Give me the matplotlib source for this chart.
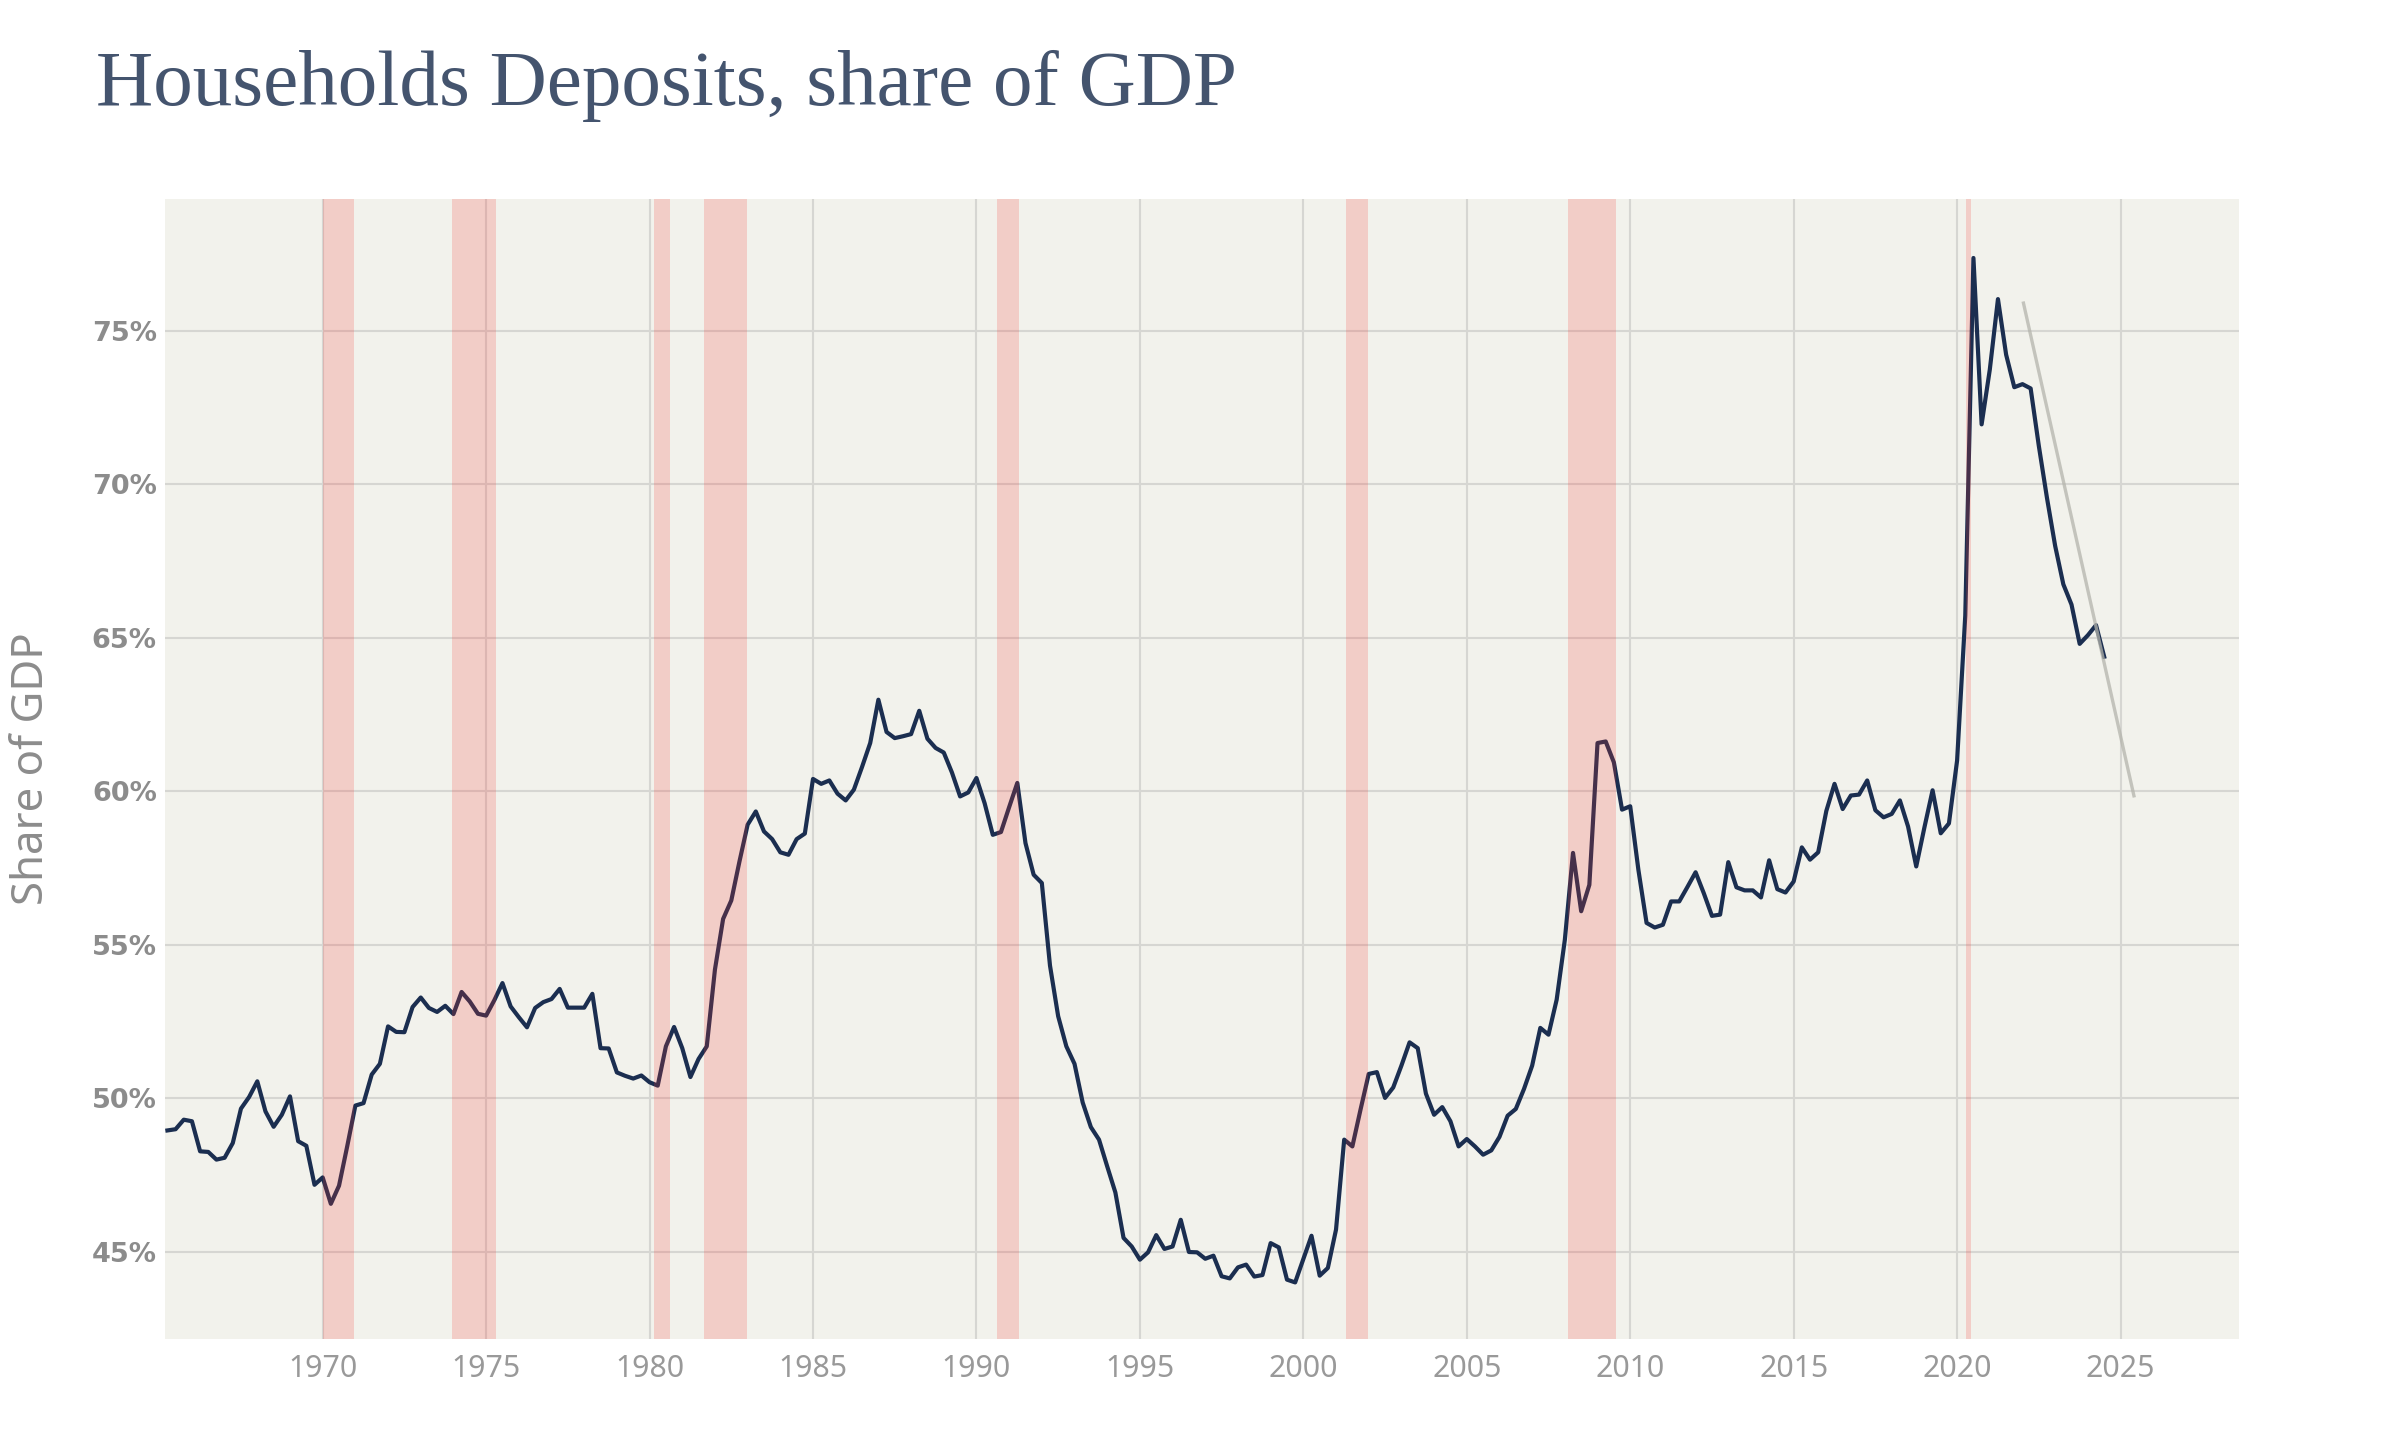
from __future__ import annotations

import numpy as np
import matplotlib

matplotlib.use("Agg")
import matplotlib.pyplot as plt
from matplotlib.ticker import FuncFormatter

# quarterly household deposits, % of GDP (first point = 1965Q2)
start_year = 1965.25
share_gdp = [
    48.95, 48.99, 49.30, 49.25, 48.27, 48.25, 48.00, 48.06,
    48.54, 49.66, 50.04, 50.55, 49.57, 49.07, 49.46, 50.06,
    48.60, 48.45, 47.18, 47.42, 46.56, 47.15, 48.43, 49.76,
    49.84, 50.77, 51.12, 52.34, 52.16, 52.15, 52.97, 53.28,
    52.94, 52.81, 53.01, 52.74, 53.46, 53.15, 52.75, 52.69,
    53.19, 53.75, 52.99, 52.64, 52.31, 52.94, 53.13, 53.23,
    53.56, 52.95, 52.95, 52.95, 53.40, 51.63, 51.62, 50.84,
    50.73, 50.64, 50.74, 50.52, 50.41, 51.69, 52.32, 51.63,
    50.69, 51.28, 51.69, 54.19, 55.84, 56.44, 57.71, 58.91,
    59.34, 58.69, 58.44, 58.01, 57.93, 58.44, 58.62, 60.40,
    60.24, 60.35, 59.92, 59.70, 60.05, 60.79, 61.57, 62.98,
    61.93, 61.73, 61.79, 61.86, 62.62, 61.71, 61.41, 61.26,
    60.61, 59.83, 59.96, 60.43, 59.61, 58.58, 58.67, 59.48,
    60.27, 58.31, 57.28, 57.01, 54.32, 52.67, 51.69, 51.12,
    49.86, 49.06, 48.65, 47.78, 46.93, 45.45, 45.17, 44.74,
    44.98, 45.54, 45.09, 45.17, 46.04, 44.99, 44.98, 44.77,
    44.87, 44.20, 44.13, 44.49, 44.58, 44.19, 44.24, 45.28,
    45.14, 44.09, 44.00, 44.76, 45.52, 44.22, 44.47, 45.72,
    48.65, 48.43, 49.63, 50.79, 50.85, 50.01, 50.35, 51.06,
    51.82, 51.63, 50.15, 49.46, 49.71, 49.25, 48.43, 48.67,
    48.43, 48.16, 48.30, 48.74, 49.43, 49.65, 50.30, 51.06,
    52.29, 52.07, 53.21, 55.16, 57.99, 56.09, 56.95, 61.57,
    61.62, 60.94, 59.40, 59.51, 57.44, 55.71, 55.56, 55.65,
    56.41, 56.41, 56.88, 57.36, 56.68, 55.94, 55.98, 57.69,
    56.87, 56.77, 56.77, 56.54, 57.75, 56.81, 56.70, 57.06,
    58.17, 57.77, 58.01, 59.36, 60.24, 59.42, 59.86, 59.89,
    60.35, 59.38, 59.15, 59.26, 59.70, 58.85, 57.55, 58.82,
    60.03, 58.63, 58.95, 61.00, 65.72, 77.37, 71.95, 73.73,
    76.03, 74.22, 73.16, 73.26, 73.12, 71.25, 69.55, 67.99,
    66.74, 66.08, 64.80, 65.08, 65.41, 64.38,
]

# recession periods (decimal years)
recession_start = [1970.00, 1973.96, 1980.14, 1981.66, 1990.64, 2001.30, 2008.09, 2020.26]
recession_end = [1970.95, 1975.29, 1980.63, 1982.99, 1991.29, 2001.98, 2009.58, 2020.42]

# trend line drawn at the end
trend_x = [2022.03, 2025.41]
trend_y = [75.9, 59.85]

year_ticks = list(range(1970, 2030, 5))
pct_ticks = [45, 50, 55, 60, 65, 70, 75]

BG = "#f2f2ec"
LINE = "#1b2e50"
GRID = "#d6d6d2"
TICK = "#8c8c8c"


def plot_deposits(out_path: str = "out.png") -> None:
    x = start_year + 0.25 * np.arange(len(share_gdp))

    fig = plt.figure(figsize=(16, 9.6), dpi=150)
    ax = fig.add_axes([0.0688, 0.070, 0.8642, 0.792])
    ax.set_facecolor(BG)

    ax.plot(x, share_gdp, color=LINE, lw=2.0, zorder=3)
    ax.plot(trend_x, trend_y, color="#b4b4ac", lw=1.6, alpha=0.75, zorder=4)

    for s, e in zip(recession_start, recession_end):
        ax.axvspan(s, e, color="#f73934", alpha=0.2, lw=0, zorder=5)

    ax.set_xlim(1965.18, 2028.63)
    ax.set_ylim(42.15, 79.3)
    ax.set_xticks(year_ticks)
    ax.set_yticks(pct_ticks)
    ax.yaxis.set_major_formatter(FuncFormatter(lambda v, _: f"{v:.0f}%"))
    ax.grid(True, color=GRID, lw=1.0, zorder=1)
    ax.set_axisbelow(True)
    for sp in ax.spines.values():
        sp.set_visible(False)

    ax.tick_params(axis="both", length=0)
    ax.tick_params(axis="x", pad=7, labelsize=14.5, labelcolor="#999999")
    ax.tick_params(axis="y", pad=4, labelsize=13, labelcolor=TICK)
    for lab in ax.get_xticklabels():
        lab.set_fontfamily("Noto Sans")
        lab.set_fontweight("light")
    for lab in ax.get_yticklabels():
        lab.set_fontfamily("DejaVu Sans")
        lab.set_fontweight("bold")

    fig.text(0.004, 0.5 * (0.070 + 0.862), "Share of GDP", rotation=90,
             ha="left", va="center", fontsize=21, color=TICK,
             family="Noto Sans", fontweight="light")

    fig.text(0.040, 0.927, "Households Deposits, share of GDP", ha="left",
             va="baseline", fontsize=38, color="#44546e",
             family="Liberation Serif")

    fig.savefig(out_path, dpi=150, facecolor="white")
    plt.close(fig)


if __name__ == "__main__":
    plot_deposits("out.png")
